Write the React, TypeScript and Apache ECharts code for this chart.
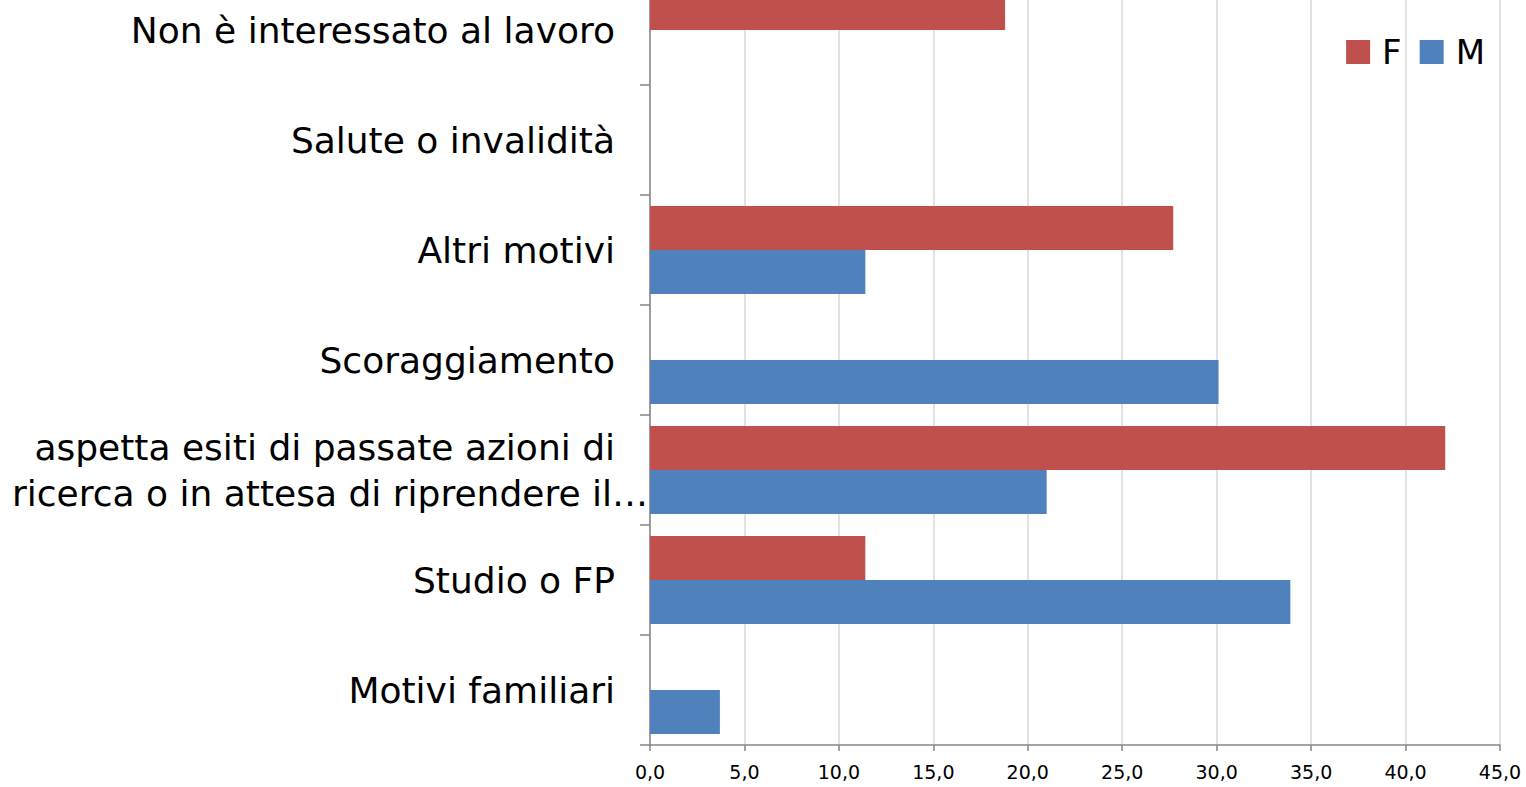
import React, { useEffect, useRef } from "react";
import * as echarts from "echarts";

const categories = [
  "Motivi familiari",
  "Studio o FP",
  "aspetta esiti di passate azioni di\nricerca o in attesa di riprendere il…",
  "Scoraggiamento",
  "Altri motivi",
  "Salute o invalidità",
  "Non è interessato al lavoro",
];
const valuesF: (number | null)[] = [null, 11.4, 42.1, null, 27.7, null, 18.8];
const valuesM: (number | null)[] = [3.7, 33.9, 21.0, 30.1, 11.4, null, null];
const xTicks = { min: 0, max: 45, interval: 5 };

const FONT = "DejaVu Sans";
const LABEL_SIZE = 36;

export default function App() {
  const ref = useRef<HTMLDivElement>(null);
  useEffect(() => {
    if (!ref.current) return;
    const chart = echarts.init(ref.current, null, { renderer: "svg" });
    const yData = categories.map((c) => {
      if (c.indexOf("\n") >= 0) {
        return { value: c, textStyle: { padding: [0, 0, 0, 0] } };
      }
      return c;
    });
    chart.setOption({
      animation: false,
      backgroundColor: "#ffffff",
      legend: {
        right: 36,
        top: 55,
        itemWidth: 24,
        itemHeight: 24,
        itemGap: 18,
        icon: "rect",
        textStyle: { fontFamily: FONT, fontSize: 34, color: "#000", padding: [0, 0, 0, 7] },
        data: ["F", "M"],
      },
      grid: { left: 650, right: 26, top: 0, bottom: 42, containLabel: false },
      xAxis: {
        type: "value",
        min: xTicks.min,
        max: xTicks.max,
        interval: xTicks.interval,
        axisLine: { show: true, lineStyle: { color: "#868686", width: 1.5 } },
        axisTick: { show: true, length: 6, lineStyle: { color: "#868686", width: 1.5 } },
        splitLine: { show: true, lineStyle: { color: "#d9d9d9", width: 1.5 } },
        axisLabel: {
          fontFamily: FONT,
          fontSize: 19,
          color: "#000",
          margin: 17,
          formatter: (v: number) => v.toFixed(1).replace(".", ","),
        },
      },
      yAxis: {
        type: "category",
        data: yData,
        axisLine: { show: true, lineStyle: { color: "#868686", width: 1.5 } },
        axisTick: { show: true, length: 10, lineStyle: { color: "#868686", width: 1.5 } },
        axisLabel: {
          fontFamily: FONT,
          fontSize: LABEL_SIZE,
          color: "#000",
          margin: 2,
          padding: [0, 33, 0, 0],
          lineHeight: 46,
          align: "right",
          formatter: (v: string) => {
            const parts = v.split("\n");
            if (parts.length > 1) {
              return "{a|" + parts[0] + "}\n{b|" + parts[1] + "}";
            }
            return v;
          },
          rich: {
            a: {
              fontFamily: FONT,
              fontSize: LABEL_SIZE,
              color: "#000",
              lineHeight: 46,
              padding: [0, 33, 0, 0],
            },
            b: {
              fontFamily: FONT,
              fontSize: LABEL_SIZE,
              color: "#000",
              lineHeight: 46,
            },
          },
        },
      },
      series: [
        {
          name: "F",
          type: "bar",
          data: valuesF,
          itemStyle: { color: "#c0504d" },
          barGap: "0%",
          barCategoryGap: "20%",
        },
        {
          name: "M",
          type: "bar",
          data: valuesM,
          itemStyle: { color: "#4f81bd" },
          barGap: "0%",
          barCategoryGap: "20%",
        },
      ],
    });
    return () => chart.dispose();
  }, []);
  return (
    <div
      ref={ref}
      style={{ position: "absolute", left: 0, top: -25, width: 1526, height: 812 }}
    />
  );
}
